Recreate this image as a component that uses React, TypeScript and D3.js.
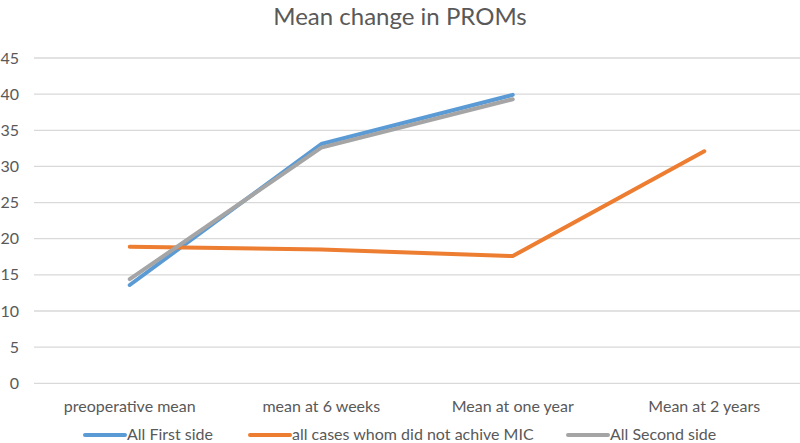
import React from 'react';
import * as d3 from 'd3';

const categories = ['preoperative mean', 'mean at 6 weeks', 'Mean at one year', 'Mean at 2 years'];
const firstSide = [13.6, 33.1, 39.9, null];
const notMic = [18.9, 18.5, 17.6, 32.1];
const secondSide = [14.4, 32.6, 39.3, null];
const yTicks = [0, 5, 10, 15, 20, 25, 30, 35, 40, 45];

const seriesList = [
  { name: 'All First side', values: firstSide, color: '#5B9BD5', lx: 85 },
  { name: 'all cases whom did not achive MIC', values: notMic, color: '#ED7D31', lx: 250 },
  { name: 'All Second side', values: secondSide, color: '#A5A5A5', lx: 568 },
];

const W = 800;
const H = 443;
const margin = { top: 58, right: 0, bottom: 60, left: 34 };
const font = 'Lato, Carlito, Calibri, sans-serif';
const textColor = '#595959';

export default function App() {
  const x = d3.scaleBand().domain(categories).range([margin.left, W - margin.right]);
  const y = d3.scaleLinear().domain([0, 45]).range([H - margin.bottom + 0.3, margin.top]);

  const line = d3.line<number | null>()
    .defined(d => d != null)
    .x((_, i) => (x(categories[i]) as number) + x.bandwidth() / 2)
    .y(d => y(d as number));

  return (
    <svg width={W} height={H} style={{ position: 'absolute', left: 0, top: 0, background: '#fff' }} fontFamily={font}>
      <text x={W / 2} y={25} textAnchor="middle" fontSize={24} fill={textColor}>Mean change in PROMs</text>

      {/* gridlines and y labels */}
      {yTicks.map(t => (
        <g key={t}>
          <line x1={margin.left} x2={W - margin.right} y1={y(t)} y2={y(t)} stroke="#D9D9D9" strokeWidth={1.3} />
          <text x={19} y={y(t)} dy="0.35em" textAnchor="end" fontSize={16} fill={textColor}>{t}</text>
        </g>
      ))}

      {categories.map(c => (
        <text key={c} x={(x(c) as number) + x.bandwidth() / 2} y={412} textAnchor="middle" fontSize={16} fill={textColor}>{c}</text>
      ))}

      {seriesList.map(s => (
        <path key={s.name} d={line(s.values) || ''} fill="none" stroke={s.color} strokeWidth={4} strokeLinejoin="round" strokeLinecap="round" />
      ))}

      {seriesList.map(s => (
        <g key={s.name}>
          <line x1={s.lx} x2={s.lx + 40} y1={435} y2={435} stroke={s.color} strokeWidth={4} strokeLinecap="round" />
          <text x={s.lx + 42} y={440} fontSize={16} fill={textColor}>{s.name}</text>
        </g>
      ))}
    </svg>
  );
}
